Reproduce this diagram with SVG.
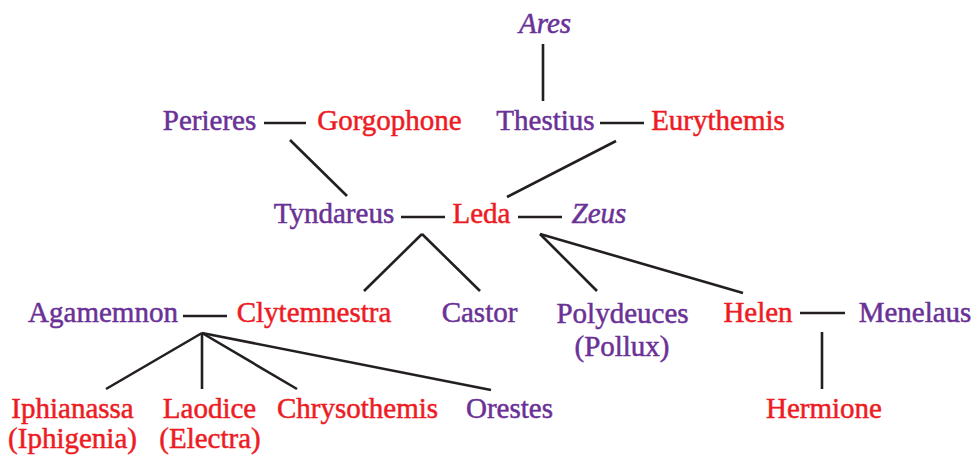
<svg xmlns="http://www.w3.org/2000/svg" width="975" height="455" viewBox="0 0 975 455">
<style>
text{font-family:"Liberation Serif","Times New Roman",serif;font-size:29px;text-anchor:middle;stroke-width:0.5}
.m{fill:#6a3196;stroke:#6a3196}
.f{fill:#ed1c24;stroke:#ed1c24}
.i{font-style:italic}
#connectors line{stroke:#231f20;stroke-width:2.6;stroke-linecap:butt}
</style>
<rect width="975" height="455" fill="#fff"/>
<g id="connectors">
<line x1="543" y1="44" x2="543" y2="101"/>
<line x1="264" y1="123" x2="306" y2="123"/>
<line x1="600" y1="123" x2="644" y2="123"/>
<line x1="290" y1="140" x2="347" y2="196"/>
<line x1="616" y1="141" x2="507" y2="197"/>
<line x1="401" y1="217" x2="445" y2="217"/>
<line x1="518" y1="217" x2="562" y2="217"/>
<line x1="422" y1="234" x2="364" y2="291"/>
<line x1="422" y1="234" x2="480" y2="291"/>
<line x1="540" y1="234" x2="597" y2="291"/>
<line x1="540" y1="234" x2="743" y2="293"/>
<line x1="183" y1="316" x2="227" y2="316"/>
<line x1="800" y1="313" x2="845" y2="313"/>
<line x1="822" y1="332" x2="822" y2="389"/>
<line x1="202" y1="333" x2="106" y2="389"/>
<line x1="202" y1="333" x2="202" y2="389"/>
<line x1="202" y1="333" x2="297" y2="389"/>
<line x1="202" y1="333" x2="491" y2="390"/>
</g>
<g id="ares"><text class="m i" x="545" y="33">Ares</text></g>
<g id="perieres"><text class="m" x="209.5" y="130">Perieres</text></g>
<g id="gorgophone"><text class="f" x="389.5" y="130">Gorgophone</text></g>
<g id="thestius"><text class="m" x="545.5" y="130">Thestius</text></g>
<g id="eurythemis"><text class="f" x="718" y="130">Eurythemis</text></g>
<g id="tyndareus"><text class="m" x="334" y="223">Tyndareus</text></g>
<g id="leda"><text class="f" x="481.5" y="223">Leda</text></g>
<g id="zeus"><text class="m i" x="599" y="223">Zeus</text></g>
<g id="agamemnon"><text class="m" x="103" y="322">Agamemnon</text></g>
<g id="clytemnestra"><text class="f" x="314" y="322">Clytemnestra</text></g>
<g id="castor"><text class="m" x="479.5" y="322">Castor</text></g>
<g id="polydeuces"><text class="m" x="622.5" y="323">Polydeuces</text><text class="m" x="622" y="356">(Pollux)</text></g>
<g id="helen"><text class="f" x="758" y="322">Helen</text></g>
<g id="menelaus"><text class="m" x="915" y="322">Menelaus</text></g>
<g id="hermione"><text class="f" x="824" y="418">Hermione</text></g>
<g id="iphianassa"><text class="f" x="72.5" y="418">Iphianassa</text><text class="f" x="72.5" y="448">(Iphigenia)</text></g>
<g id="laodice"><text class="f" x="209.5" y="418">Laodice</text><text class="f" x="210" y="448">(Electra)</text></g>
<g id="chrysothemis"><text class="f" x="357.5" y="418">Chrysothemis</text></g>
<g id="orestes"><text class="m" x="509.5" y="418">Orestes</text></g>
</svg>
